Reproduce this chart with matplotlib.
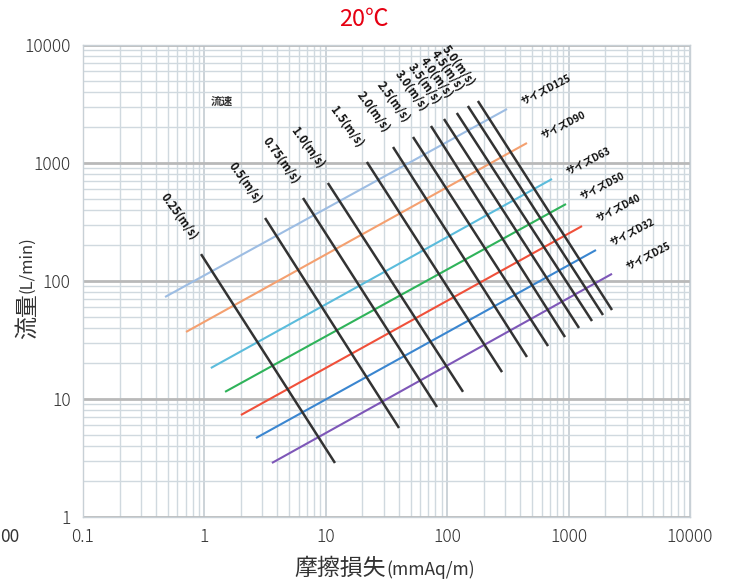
import matplotlib
matplotlib.use("Agg")
import matplotlib.pyplot as plt
from matplotlib.ticker import LogLocator, NullFormatter, FixedLocator, FixedFormatter

plt.rcParams['font.family'] = ['Noto Sans CJK JP', 'DejaVu Sans']

# pipe size lines: friction loss (mmAq/m) and flow (L/min) at both ends
size_names = ["サイズD125", "サイズD90", "サイズD63", "サイズD50", "サイズD40", "サイズD32", "サイズD25"]
size_colors = ["#9dbde3", "#f4a070", "#5bbcdc", "#2fb35a", "#f0503a", "#3a86d0", "#7e57b8"]
size_loss_start = [0.474, 0.706, 1.13, 1.48, 2.00, 2.66, 3.60]
size_flow_start = [73.2, 37.0, 18.3, 11.5, 7.32, 4.67, 2.87]
size_loss_end = [311, 454, 730, 952, 1290, 1681, 2278]
size_flow_end = [2868, 1477, 732, 449, 292, 183, 115]

# velocity lines
vel_names = ["0.25(m/s)", "0.5(m/s)", "0.75(m/s)", "1.0(m/s)", "1.5(m/s)", "2.0(m/s)",
             "2.5(m/s)", "3.0(m/s)", "3.5(m/s)", "4.0(m/s)", "4.5(m/s)", "5.0(m/s)"]
vel_loss_start = [0.938, 3.16, 6.49, 10.4, 21.8, 35.8, 52.3, 73.5, 94.1, 120, 148, 179]
vel_flow_start = [169, 342, 505, 677, 1020, 1366, 1661, 2059, 2360, 2653, 3042, 3353]
vel_loss_end = [11.9, 40.1, 82.4, 135, 283, 454, 677, 934, 1218, 1559, 1920, 2278]
vel_flow_end = [2.87, 5.68, 8.55, 11.5, 16.9, 22.7, 28.1, 33.5, 40.0, 45.8, 51.5, 56.8]

x_ticks = [0.1, 1, 10, 100, 1000, 10000]
x_labels = ["0.1", "1", "10", "100", "1000", "10000"]
y_ticks = [1, 10, 100, 1000, 10000]
y_labels = ["1", "10", "100", "1000", "10000"]

fig = plt.figure(figsize=(7.29, 5.8), dpi=100)
ax = fig.add_axes([83/729, 1-517/580, (690-83)/729, (517-45)/580])
ax.set_xscale("log")
ax.set_yscale("log")
ax.set_xlim(0.1, 10000)
ax.set_ylim(1, 10000)

ax.xaxis.set_minor_locator(LogLocator(base=10, subs=range(2, 10), numticks=20))
ax.yaxis.set_minor_locator(LogLocator(base=10, subs=range(2, 10), numticks=20))
ax.xaxis.set_minor_formatter(NullFormatter())
ax.yaxis.set_minor_formatter(NullFormatter())
ax.xaxis.set_major_locator(FixedLocator(x_ticks))
ax.xaxis.set_major_formatter(FixedFormatter(x_labels))
ax.yaxis.set_major_locator(FixedLocator(y_ticks))
ax.yaxis.set_major_formatter(FixedFormatter(y_labels))

ax.grid(which="minor", color="#d0d9df", lw=1.0)
ax.grid(which="major", axis="x", color="#c3ccd2", lw=1.2)
ax.grid(which="major", axis="y", color="#b9b9b9", lw=2.0)
ax.set_axisbelow(True)
for s in ax.spines.values():
    s.set_color("#c8d0d6")
    s.set_linewidth(1.0)
ax.tick_params(which="both", length=0)
ax.tick_params(axis="x", pad=8, labelsize=12.5, labelcolor="#333333")
ax.tick_params(axis="y", pad=9, labelsize=12.5, labelcolor="#333333")
for lbl in ax.get_xticklabels() + ax.get_yticklabels():
    lbl.set_fontweight("light")

for i in range(len(size_names)):
    ax.plot([size_loss_start[i], size_loss_end[i]], [size_flow_start[i], size_flow_end[i]],
            color=size_colors[i], lw=1.5, solid_capstyle="butt")
    ax.annotate(size_names[i], (size_loss_end[i], size_flow_end[i]), xytext=(15, 6),
                textcoords="offset pixels", rotation=27, rotation_mode="anchor",
                ha="left", va="center", fontsize=7.2, fontweight="bold", color="#111111")

for i in range(len(vel_names)):
    ax.plot([vel_loss_start[i], vel_loss_end[i]], [vel_flow_start[i], vel_flow_end[i]],
            color="#333333", lw=1.8, solid_capstyle="butt")
    ax.annotate(vel_names[i], (vel_loss_start[i], vel_flow_start[i]), xytext=(-6, 16),
                textcoords="offset pixels", rotation=-54, rotation_mode="anchor",
                ha="right", va="center", fontsize=8.3, fontweight="bold",
                fontstyle="italic", color="#111111")

ax.text(1.40, 3350, "流速", fontsize=8, fontweight="bold", color="#333333",
        ha="center", va="center")

# title and axis titles
fig.text(364/729, 1-19/580, "20℃", color="#e60012", fontsize=17, ha="center", va="center")
fig.text(386/729, 1-568/580, "摩擦損失", fontsize=16.5, color="#333333", ha="right", va="center")
fig.text(386/729, 1-570/580, "(mmAq/m)", fontsize=12.5, color="#333333", ha="left", va="center")
fig.text(27/729, 1-293/580, "流量", fontsize=16.5, color="#333333", rotation=90,
         ha="center", va="top")
fig.text(27/729, 1-293/580, "(L/min)", fontsize=12, color="#333333", rotation=90,
         ha="center", va="bottom")
fig.text(0, 1-537/580, "00", fontsize=12.5, color="#333333", ha="left", va="center")

fig.savefig("out.png", dpi=100)
